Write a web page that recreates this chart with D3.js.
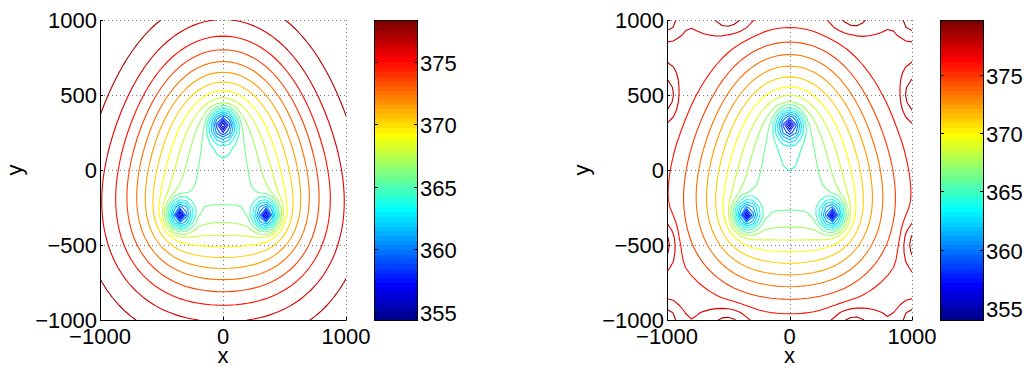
<!DOCTYPE html>
<html>
<head>
<meta charset="utf-8">
<script src="https://cdn.jsdelivr.net/npm/d3@7"></script>
<style>
  html, body { margin: 0; padding: 0; background: #fff; }
  svg { display: block; font-family: "Liberation Sans", Arial, Helvetica, sans-serif; }
</style>
</head>
<body>
<svg id="chart" width="1029" height="367"></svg>
<script>
// ---- sink positions (m) and strengths -------------------------------------
const wellX = [0, -350, 350];
const wellY = [300, -300, -300];
const bowlDepth = [8.0, 5.6, 5.6];      // broad depression of each sink
const bowlWidth = 450;                  // m
const coreDepth = [4.0, 4.0, 4.0];      // logarithmic core
const coreScale = 150;                  // m
const coreRadius = [23, 15, 15];        // m, regularises the core at the node
const pitDepth = [4.8, 4.8, 4.8];       // compact pit right round each sink
const pitRadius = 170;                  // m

// far-field concentration of the free solution
const farField = 378.58;

// periodic solution: offset, flat boundary level, side dip, top/bottom lift
const periodicOffset = 0.15;
const periodicCap = 376.9;
const periodicCapWidth = 0.35;
const sideDip = 0.25, sideDipWidth = 250;
const edgeLift = 0.35, edgeLiftWidth = 200;
// boundary ringing maxima of the periodic solution
const ringX = [-500, 520, -500, 520, -1000, -1000, 1000, 1000, -1000, 1000, -1000, 1000];
const ringY = [1000, 1000, -1000, -1000, 500, -490, 500, -490, 1000, 1000, -1000, -1000];
const ringHeight = [1.95, 1.85, 1.85, 1.85, 2.65, 2.55, 2.65, 2.55, 2.45, 2.45, 2.45, 2.45];
const ringSpreadX = [115, 115, 115, 115, 55, 55, 55, 55, 60, 60, 60, 60];
const ringSpreadY = [55, 55, 55, 55, 105, 105, 105, 105, 60, 60, 60, 60];

// ---- contour levels, colour ranges and ticks -------------------------------
const freeLevels = [355.50, 356.64, 357.79, 358.93, 360.07, 361.21, 362.36, 363.50, 364.64, 365.78,
                    366.93, 368.07, 369.21, 370.35, 371.50, 372.64, 373.78, 374.92, 376.07, 377.21];
const periodicLevels = [355.20, 356.42, 357.65, 358.87, 360.10, 361.32, 362.55, 363.77, 365.00, 366.22,
                        367.45, 368.67, 369.90, 371.12, 372.35, 373.57, 374.80, 376.02, 377.25, 378.47];
const freeRange = [354.36, 378.35];
const periodicRange = [353.97, 379.70];
const xTicks = [-1000, 0, 1000];
const yTicks = [-1000, -500, 0, 500, 1000];
const barTicks = [355, 360, 365, 370, 375];

// ---- sampling grid -----------------------------------------------------------
const gridMin = -1000, gridStep = 50, gridN = 41;

// modified Bessel function K0 (Abramowitz & Stegun 9.8.1, 9.8.5, 9.8.6)
function besselK0(x) {
  if (x <= 2) {
    const t = (x / 3.75) * (x / 3.75);
    const i0 = 1 + t * (3.5156229 + t * (3.0899424 + t * (1.2067492 + t * (0.2659732 + t * (0.0360768 + t * 0.0045813)))));
    const y = x * x / 4;
    return -Math.log(x / 2) * i0 + (-0.57721566 + y * (0.42278420 + y * (0.23069756 + y * (0.03488590 + y * (0.00262698 + y * (0.00010750 + y * 0.00000740))))));
  }
  const z = 2 / x;
  return Math.exp(-x) / Math.sqrt(x) * (1.25331414 + z * (-0.07832358 + z * (0.02189568 + z * (-0.01062446 + z * (0.00587872 + z * (-0.00251540 + z * 0.00053208))))));
}

function freeConcentration(x, y) {
  let v = farField;
  for (let i = 0; i < wellX.length; i++) {
    const dx = x - wellX[i], dy = y - wellY[i];
    const r2 = dx * dx + dy * dy;
    v -= bowlDepth[i] * Math.exp(-r2 / (2 * bowlWidth * bowlWidth));
    v -= coreDepth[i] * besselK0(Math.sqrt(r2 + coreRadius[i] * coreRadius[i]) / coreScale);
    const q = 1 - r2 / (pitRadius * pitRadius);
    if (q > 0) v -= pitDepth[i] * q * q;
  }
  return v;
}

function softMin(a, b, w) {
  return Math.min(a, b) - w * Math.log1p(Math.exp(-Math.abs(a - b) / w));
}

function periodicConcentration(x, y) {
  const sx = (1000 - Math.abs(x)) / sideDipWidth;
  const ey = (1000 - Math.abs(y)) / edgeLiftWidth;
  let v = freeConcentration(x, y) + periodicOffset - sideDip * Math.exp(-sx * sx);
  v = softMin(v, periodicCap, periodicCapWidth) + edgeLift * Math.exp(-ey * ey);
  for (let i = 0; i < ringX.length; i++) {
    const ux = (x - ringX[i]) / ringSpreadX[i], uy = (y - ringY[i]) / ringSpreadY[i];
    v += ringHeight[i] * Math.exp(-0.5 * (ux * ux + uy * uy));
  }
  return v;
}

function sampleField(fn) {
  const values = new Array(gridN * gridN);
  for (let j = 0; j < gridN; j++) {
    const y = -gridMin - j * gridStep;
    for (let i = 0; i < gridN; i++) {
      values[j * gridN + i] = fn(gridMin + i * gridStep, y);
    }
  }
  return values;
}

// 64-entry jet colormap, rows 1..64
function jetRow(i) {
  const r = i < 25 ? 0 : i <= 40 ? (i - 24) / 16 : i <= 55 ? 1 : 1 - (i - 56) / 16;
  const g = i < 9 ? 0 : i <= 24 ? (i - 8) / 16 : i <= 39 ? 1 : i <= 55 ? 1 - (i - 40) / 16 : 0;
  const b = i <= 8 ? (i + 8) / 16 : i <= 23 ? 1 : i <= 39 ? 1 - (i - 24) / 16 : 0;
  return d3.rgb(r * 255, g * 255, b * 255).formatHex();
}
function jetColor(v, range) {
  let idx = Math.floor((v - range[0]) / (range[1] - range[0]) * 64) + 1;
  idx = Math.max(1, Math.min(64, idx));
  return jetRow(idx);
}

// ---- layout ------------------------------------------------------------------
const plotTop = 20, plotBottom = 320;
const panels = [
  { id: "free", left: 100, right: 346, barLeft: 374, barRight: 417,
    levels: freeLevels, range: freeRange, field: freeConcentration },
  { id: "periodic", left: 667, right: 912, barLeft: 940, barRight: 983,
    levels: periodicLevels, range: periodicRange, field: periodicConcentration }
];

const svg = d3.select("#chart");
const defs = svg.append("defs");
const fontSize = 22;
const fmt = t => (t < 0 ? "\u2212" + Math.abs(t) : String(t));

panels.forEach(p => {
  const xs = d3.scaleLinear().domain([-1000, 1000]).range([p.left, p.right]);
  const ys = d3.scaleLinear().domain([-1000, 1000]).range([plotBottom, plotTop]);
  const g = svg.append("g");

  defs.append("clipPath").attr("id", "clip-" + p.id)
    .append("rect").attr("x", p.left).attr("y", plotTop)
    .attr("width", p.right - p.left).attr("height", plotBottom - plotTop);

  // dotted grid
  const grid = g.append("g").attr("stroke", "#7a7a7a").attr("stroke-width", 1)
    .attr("stroke-dasharray", "1,3");
  xTicks.forEach(t => {
    grid.append("line").attr("x1", Math.round(xs(t)) + 0.5).attr("x2", Math.round(xs(t)) + 0.5)
      .attr("y1", plotTop).attr("y2", plotBottom);
  });
  yTicks.forEach(t => {
    grid.append("line").attr("y1", Math.round(ys(t)) + 0.5).attr("y2", Math.round(ys(t)) + 0.5)
      .attr("x1", p.left).attr("x2", p.right);
  });

  // contour lines
  const values = sampleField(p.field);
  const sets = d3.contours().size([gridN, gridN]).thresholds(p.levels)(values);
  const toData = c => gridMin + (c - 0.5) * gridStep;
  const path = d3.geoPath(d3.geoTransform({
    point(cx, cy) { this.stream.point(xs(toData(cx)), ys(-toData(cy))); }
  }));
  g.append("g").attr("clip-path", "url(#clip-" + p.id + ")")
    .selectAll("path").data(sets).join("path")
    .attr("d", path)
    .attr("fill", "none")
    .attr("stroke", d => jetColor(d.value, p.range))
    .attr("stroke-width", 1.1)
    .attr("stroke-linejoin", "round");

  // axes
  const ax = g.append("g").attr("stroke", "#000").attr("stroke-width", 1);
  ax.append("line").attr("x1", p.left + 0.5).attr("x2", p.left + 0.5)
    .attr("y1", plotTop).attr("y2", plotBottom + 0.5);
  ax.append("line").attr("x1", p.left).attr("x2", p.right + 0.5)
    .attr("y1", plotBottom + 0.5).attr("y2", plotBottom + 0.5);
  xTicks.forEach(t => {
    const xp = Math.round(xs(t)) + 0.5;
    ax.append("line").attr("x1", xp).attr("x2", xp).attr("y1", plotBottom).attr("y2", plotBottom - 3);
  });
  yTicks.forEach(t => {
    const yp = Math.round(ys(t)) + 0.5;
    ax.append("line").attr("x1", p.left).attr("x2", p.left + 3).attr("y1", yp).attr("y2", yp);
  });

  const txt = g.append("g").attr("fill", "#000").attr("font-size", fontSize);
  xTicks.forEach(t => {
    txt.append("text").attr("x", xs(t)).attr("y", 344).attr("text-anchor", "middle").text(fmt(t));
  });
  yTicks.forEach(t => {
    txt.append("text").attr("x", p.left - 3).attr("y", ys(t) + 8).attr("text-anchor", "end").text(fmt(t));
  });
  txt.append("text").attr("x", (p.left + p.right) / 2).attr("y", 363).attr("text-anchor", "middle").text("x");
  txt.append("text").attr("transform", `translate(${p.left - 78},170) rotate(-90)`)
    .attr("text-anchor", "middle").text("y");

  // colour bar
  const cs = d3.scaleLinear().domain(p.range).range([plotBottom, plotTop]);
  const bar = g.append("g");
  const step = (p.range[1] - p.range[0]) / 64;
  d3.range(1, 65).forEach(i => {
    const y0 = cs(p.range[0] + (i - 1) * step), y1 = cs(p.range[0] + i * step);
    bar.append("rect").attr("x", p.barLeft).attr("width", p.barRight - p.barLeft)
      .attr("y", y1).attr("height", y0 - y1 + 0.3)
      .attr("fill", jetRow(i)).attr("shape-rendering", "crispEdges");
  });
  bar.append("rect").attr("x", p.barLeft + 0.5).attr("y", plotTop + 0.5)
    .attr("width", p.barRight - p.barLeft).attr("height", plotBottom - plotTop)
    .attr("fill", "none").attr("stroke", "#000").attr("stroke-width", 1);
  barTicks.forEach(t => {
    const yp = Math.round(cs(t)) + 0.5;
    bar.append("line").attr("x1", p.barRight + 0.5).attr("x2", p.barRight - 3)
      .attr("y1", yp).attr("y2", yp).attr("stroke", "#000");
    bar.append("line").attr("x1", p.barLeft + 0.5).attr("x2", p.barLeft + 4)
      .attr("y1", yp).attr("y2", yp).attr("stroke", "#000");
    bar.append("text").attr("x", p.barRight + 3).attr("y", yp + 8)
      .attr("font-size", fontSize).text(String(t));
  });
});
</script>
</body>
</html>
